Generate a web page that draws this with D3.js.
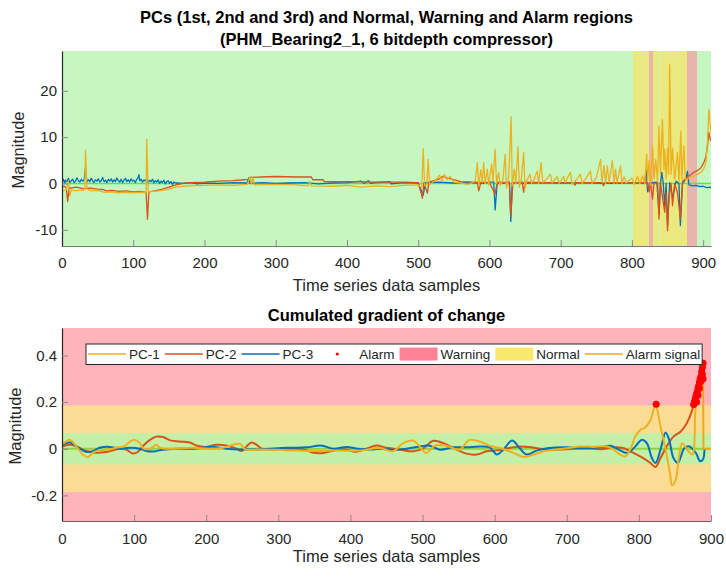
<!DOCTYPE html>
<html>
<head>
<meta charset="utf-8">
<script src="https://cdn.jsdelivr.net/npm/d3@7/dist/d3.min.js"></script>
<style>
body{margin:0;background:#fff;}
svg text{font-family:"Liberation Sans",Arial,Helvetica,sans-serif;fill:#262626;}
</style>
</head>
<body>
<svg id="fig" width="726" height="577"></svg>
<script>
// ---- upper panel: raw principal components, [sample, value]
var comp1=[[0,0.3],[2,0.9],[4,0.1],[5,0.7],[7,0.4],[9,1.1],[11,0.2],[13,0.6],[15,0.9],[17,0.2],[19,0.5],[21,1.2],[23,0.6],[25,0.3],[27,0.9],[29,0.5],[31,0.7],[33,3.5],[35,0.3],[37,0.8],[39,0.4],[41,1.1],[43,0.6],[45,0.2],[47,0.8],[49,0.5],[51,1.0],[53,0.3],[55,0.6],[57,1.3],[59,0.4],[61,0.7],[63,0.2],[65,0.9],[67,0.5],[69,1.0],[71,0.3],[73,0.8],[75,0.4],[77,1.2],[79,0.6],[81,0.3],[83,0.9],[85,0.2],[87,0.7],[89,1.1],[91,0.4],[93,0.8],[95,0.3],[97,1.0],[99,0.5],[101,0.7],[103,0.2],[105,0.9],[107,1.3],[108,1.9],[109,0.6],[111,0.9],[113,0.3],[115,0.8],[117,0.5],[119,1.0],[121,0.2],[123,0.7],[125,0.4],[127,0.9],[129,0.1],[131,0.6],[133,0.3],[135,0.8],[137,0.0],[139,0.5],[141,0.2],[143,0.7],[145,-0.1],[147,0.4],[149,0.6],[151,0.0],[153,0.4],[155,-0.2],[157,0.3],[160,0.1],[170,0.0],[180,0.2],[190,-0.1],[200,0.1],[220,0.0],[240,0.2],[260,0.1],[262,1.2],[264,0.0],[280,0.2],[300,0.0],[320,0.1],[340,0.2],[360,-0.1],[380,0.1],[400,0.2],[420,0.5],[424,0.0],[430,0.6],[433,0.0],[440,0.2],[460,0.4],[462,-0.1],[480,0.2],[500,0.1],[507,-2.5],[510,0.2],[530,0.3],[550,0.1],[570,0.2],[590,0.0],[606,0.4],[608,-5.7],[611,0.2],[620,0.1],[628,0.3],[630,-8.2],[632,0.2],[650,0.0],[670,0.2],[700,0.1],[730,0.2],[760,0.0],[790,0.1],[810,0.2],[818,0.0],[820,3.0],[822,-1.8],[825,0.1],[835,0.3],[838,-6.5],[840,0.0],[842,2.4],[844,0.0],[846,-5.0],[848,0.0],[850,-9.0],[853,0.2],[857,-3.0],[862,0.5],[866,0.0],[868,-9.1],[871,0.0],[876,1.0],[878,2.6],[880,-0.3],[885,-0.5],[890,-0.4],[895,-0.7],[900,-0.6],[905,-0.9],[910,-0.8],[911,-1.0]];
var comp2=[[0,-0.8],[3,-0.6],[6,-0.9],[8,-3.9],[10,-0.9],[12,-1.0],[20,-0.8],[30,-1.1],[40,-1.0],[50,-1.2],[58,-1.3],[62,-1.6],[70,-1.5],[80,-1.7],[90,-1.6],[100,-1.8],[110,-1.7],[118,-1.9],[120,-7.7],[122,-1.8],[130,-1.6],[140,-1.3],[150,-0.8],[160,-0.3],[170,0.0],[180,0.2],[200,0.3],[220,0.5],[240,0.6],[255,0.8],[262,0.9],[265,1.3],[280,1.4],[300,1.5],[330,1.4],[350,1.4],[352,0.8],[366,0.8],[368,0.4],[400,0.4],[440,0.3],[480,0.3],[500,0.2],[506,-3.2],[508,0.2],[513,-2.1],[515,0.3],[530,1.0],[535,1.6],[540,1.2],[560,0.4],[583,0.3],[585,-1.6],[588,0.3],[600,0.2],[608,-2.3],[611,0.3],[628,0.2],[630,-7.0],[633,0.2],[646,0.3],[648,-1.9],[650,0.3],[680,0.2],[700,0.1],[718,0.2],[720,-0.4],[722,0.2],[740,0.2],[758,0.2],[760,-0.5],[762,0.2],[780,0.2],[800,0.1],[822,0.2],[824,-1.8],[826,0.3],[829,-3.4],[831,0.0],[836,0.2],[838,-7.7],[840,0.2],[846,-6.2],[848,-2.0],[850,-10.2],[852,-3.0],[855,0.0],[857,-4.8],[860,0.0],[864,-2.0],[868,-7.7],[871,0.5],[876,1.2],[880,1.6],[887,2.4],[893,2.9],[897,3.4],[901,4.5],[904,5.9],[906,8.0],[908,11.0],[910,9.5],[911,9.2]];
var comp3=[[0,-1.7],[4,-1.5],[6,-1.4],[9,0.6],[11,-2.7],[13,-1.4],[20,-1.6],[26,-1.4],[30,-1.5],[32,-1.0],[33,7.2],[35,-1.2],[40,-1.6],[50,-1.5],[60,-1.9],[70,-1.8],[80,-2.0],[90,-1.9],[100,-2.0],[110,-1.9],[118,-2.0],[119,9.5],[121,-1.8],[130,-1.7],[140,-1.5],[150,-1.2],[160,-0.8],[170,-0.6],[180,-0.5],[200,-0.4],[220,-0.3],[240,-0.4],[260,-0.2],[264,1.5],[266,-0.2],[268,1.2],[270,-0.3],[300,-0.2],[330,-0.3],[345,-0.5],[348,0.5],[350,-0.5],[380,-0.6],[400,-0.4],[420,-0.8],[440,-0.5],[460,-0.7],[480,-0.4],[500,-0.3],[505,-0.8],[507,7.5],[509,-0.5],[512,-0.3],[514,5.2],[516,-0.3],[525,0.8],[530,1.8],[533,0.5],[537,1.9],[540,0.8],[545,1.5],[550,0.3],[560,0.1],[570,-0.2],[580,0.5],[583,4.5],[585,-0.5],[588,3.0],[590,0.2],[592,4.5],[594,0.0],[597,3.1],[599,-0.3],[603,4.2],[605,0.4],[608,7.4],[610,0.0],[613,2.4],[615,-0.5],[619,0.8],[622,6.3],[624,-1.0],[627,1.5],[630.5,14.4],[632,-0.5],[635,3.1],[637,0.0],[640,8.0],[642,-0.8],[645,1.2],[648,6.7],[650,-1.0],[653,0.8],[657,2.0],[659,0.0],[663,1.0],[667,2.7],[669,0.0],[672.5,4.5],[675,0.2],[680,0.9],[685.5,2.0],[688,0.1],[695,1.5],[698,0.0],[704,1.5],[706,0.2],[713.6,2.4],[716,-0.2],[722,0.8],[727.7,2.0],[730,0.0],[735,1.0],[741.8,2.7],[744,0.0],[750,1.2],[756,5.2],[758,0.2],[760.8,3.9],[763,0.0],[765.5,3.8],[768,0.2],[772.5,4.9],[775,0.0],[777,3.1],[779,0.1],[784,3.8],[786,0.0],[789,1.5],[792,0.1],[800,1.2],[803,-0.2],[808,1.5],[811,0.0],[815,1.6],[818,0.0],[820.7,6.3],[822,0.5],[824,4.9],[826,-0.5],[829,8.1],[831,1.0],[833.4,5.2],[836,0.5],[838,12.4],[840,2.0],[842.8,13.8],[845,3.0],[846,7.4],[848,1.0],[850,7.6],[851.5,2.0],[853,25.6],[855,2.0],[857,7.6],[860,1.0],[864,6.7],[866,0.5],[868.6,11.3],[870,1.0],[873,8.1],[875,0.8],[878,1.0],[880,1.2],[887,1.6],[893,2.0],[897,2.4],[901,3.2],[904,4.5],[906,9.0],[908,16.0],[910,12.4],[911,11.0]];

// state regions along the samples (0 normal, 1 warning, 2 alarm)
var regionStart=[0,802,824,829,838,840,878,892];
var regionEnd=[802,824,829,838,840,878,892,911];
var regionLevel=[0,1,2,1,0,1,2,0];

// ---- lower panel: cumulated gradient, [sample, value]
var pc1=[[0,0.02],[5,0.03],[11,0.038],[20,0.01],[29,-0.026],[36,-0.035],[43,-0.017],[52,-0.006],[66,-0.003],[75,0.004],[87,0.011],[94,0.031],[101,0.038],[108,0.024],[113,0],[122,0],[131,0.017],[136,0.004],[154,0],[182,0.004],[205,0],[223,0.004],[237,0.017],[247,0.021],[254,-0.003],[265,-0.005],[275,-0.003],[310,-0.006],[350,-0.01],[380,-0.008],[413,-0.008],[441,0.003],[459,-0.011],[473,0.024],[487,0.035],[496,0.01],[505,-0.018],[517,0.013],[533,0.013],[551,-0.004],[565,0.038],[579,0.031],[593,0.013],[607,0.003],[626,-0.018],[640,-0.035],[654,-0.025],[668,-0.011],[682,-0.004],[700,0.002],[719,0.01],[737,0.008],[756,0.01],[765,-0.004],[774,-0.025],[781,-0.033],[788,-0.004],[795,0.052],[802,0.081],[809,0.092],[816,0.123],[823,0.187],[830,0.095],[837,-0.004],[843,-0.103],[846,-0.157],[851,-0.132],[856,-0.025],[860,0.024],[867,-0.004],[874,-0.025],[879,0.187],[885,0.27],[889,0.345]];
var pc2=[[0,0.01],[11,0.017],[20,0.01],[34,-0.01],[47,-0.017],[61,-0.014],[80,0],[89,-0.003],[98,-0.02],[105,-0.014],[113,0.014],[122,0.038],[131,0.052],[140,0.05],[150,0.036],[163,0.031],[177,0.027],[186,0.014],[200,0.008],[214,0.017],[228,0.014],[242,0],[249,-0.01],[256,0.011],[263,0.027],[270,0.017],[277,0],[294,-0.003],[321,0],[335,-0.003],[349,-0.017],[363,-0.018],[381,-0.005],[395,-0.003],[406,-0.013],[422,0],[436,0.014],[450,0.004],[469,-0.004],[487,-0.011],[501,0.002],[515,0.034],[529,0.024],[543,0.002],[561,-0.021],[575,-0.025],[589,-0.011],[603,-0.007],[617,0.002],[635,0.01],[649,0.007],[673,-0.004],[700,-0.002],[728,0.002],[747,-0.002],[765,0.006],[779,0.002],[788,-0.011],[797,-0.025],[806,-0.04],[816,-0.061],[823,-0.078],[830,-0.04],[839,0.013],[848,0.052],[858,0.074],[865,0.102],[872,0.149],[876,0.187],[880,0.23],[884,0.28],[887,0.32],[889,0.367]];
var pc3=[[0,0.017],[11,0.027],[20,0.01],[34,-0.014],[43,-0.01],[52,0.004],[66,0.008],[80,0],[94,0.004],[108,0],[117,-0.01],[126,-0.012],[140,-0.004],[159,0],[182,0],[210,0.008],[228,0],[247,-0.003],[275,-0.003],[312,0.004],[340,0.006],[359,0.014],[377,0],[395,0.008],[409,0],[432,-0.003],[441,0],[459,-0.004],[478,0],[496,0.01],[510,0.013],[524,-0.004],[543,0.006],[561,0.006],[579,0.01],[593,0.006],[603,-0.025],[612,-0.004],[624,0.035],[635,0.002],[644,-0.025],[658,-0.008],[673,0.002],[700,0.006],[719,0.002],[747,0.006],[761,0.013],[772,-0.004],[784,-0.018],[795,0.01],[804,0.038],[811,0.024],[818,-0.04],[823,-0.061],[830,-0.004],[837,0.07],[842,0.038],[848,-0.04],[854,-0.061],[863,0.002],[870,0.01],[879,-0.018],[885,-0.054],[889,-0.045],[891,0]];
var alarmSignal=[[889,0.345],[889.5,0],[900,0]];
var alarmX=[824,876,877,878,879,880,881,882,883,884,885,886,887,888,889,889,888,886,884,882,880];
var alarmY=[0.191,0.19,0.2,0.21,0.225,0.235,0.245,0.26,0.27,0.285,0.3,0.31,0.33,0.35,0.367,0.3,0.32,0.29,0.26,0.23,0.2];

// band limits of the lower panel
var warnLimit=0.186;
var normalLimit=0.067;

var xTicks=[0,100,200,300,400,500,600,700,800,900];
var topYTicks=[-10,0,10,20];
var botYTicks=[-0.2,0,0.2,0.4];
var legendLabels=['PC-1','PC-2','PC-3','Alarm','Warning','Normal','Alarm signal'];

var regionColors=['#c7f7c1','#e9e97f','#eab4ae'];
var compColors=['#0072bd','#d95319','#edb120'];
var pcColors=['#edb120','#d95319','#0072bd'];

var svg=d3.select('#fig');

function styleAxis(g, domainColor)
{
	g.select('.domain').attr('stroke',domainColor).attr('stroke-width',1.2);
	g.selectAll('.tick line').attr('stroke','#8a8a8a');
	g.selectAll('.tick text').attr('font-size','15px').attr('fill','#262626').attr('font-family','"Liberation Sans",Arial,sans-serif');
}

// ================= upper panel =================
var L=62, R=711;
var xTop=d3.scaleLinear().domain([0,911]).range([L,R]);
var yTop=d3.scaleLinear().domain([-13.5,28.6]).range([246,51]);

var upper=svg.append('g');
upper.append('clipPath').attr('id','clipTop').append('rect')
	.attr('x',L).attr('y',51).attr('width',R-L).attr('height',195);

upper.selectAll('rect.region')
	.data(regionStart)
	.enter().append('rect')
	.attr('class','region')
	.attr('x',function(d){ return xTop(d); })
	.attr('width',function(d,i){ return xTop(regionEnd[i])-xTop(d); })
	.attr('y',51)
	.attr('height',195)
	.attr('fill',function(d,i){ return regionColors[regionLevel[i]]; })
	.attr('shape-rendering','crispEdges');

upper.append('line')
	.attr('x1',L).attr('x2',R)
	.attr('y1',yTop(0)).attr('y2',yTop(0))
	.attr('stroke','#5fe05a').attr('stroke-width',1.5);

var lineTop=d3.line()
	.x(function(d){ return xTop(d[0]); })
	.y(function(d){ return yTop(d[1]); });

[comp1,comp2,comp3].forEach(function(s,i){
	upper.append('path')
		.datum(s)
		.attr('d',lineTop)
		.attr('fill','none')
		.attr('stroke',compColors[i])
		.attr('stroke-width',1.3)
		.attr('stroke-linejoin','round')
		.attr('clip-path','url(#clipTop)');
});

var gxTop=upper.append('g')
	.attr('transform','translate(0,246)')
	.call(d3.axisBottom(xTop).tickValues(xTicks).tickSizeInner(-6).tickSizeOuter(0).tickPadding(11.5).tickFormat(function(d){ return String(d); }));
styleAxis(gxTop,'#7a7a7a');

var gyTop=upper.append('g')
	.attr('transform','translate('+L+',0)')
	.call(d3.axisLeft(yTop).tickValues(topYTicks).tickSizeInner(-6).tickSizeOuter(0).tickPadding(5).tickFormat(function(d){ return String(d); }));
styleAxis(gyTop,'#262626');

upper.append('text')
	.attr('x',(L+R)/2).attr('y',23)
	.attr('text-anchor','middle')
	.attr('font-size','16.5px').attr('font-weight','bold').style('fill','#000')
	.text('PCs (1st, 2nd and 3rd) and Normal, Warning and Alarm regions');
upper.append('text')
	.attr('x',(L+R)/2).attr('y',45)
	.attr('text-anchor','middle')
	.attr('font-size','16.5px').attr('font-weight','bold').style('fill','#000')
	.text('(PHM_Bearing2_1, 6 bitdepth compressor)');
upper.append('text')
	.attr('x',(L+R)/2).attr('y',291)
	.attr('text-anchor','middle')
	.attr('font-size','16.5px')
	.text('Time series data samples');
upper.append('text')
	.attr('transform','translate(24,150) rotate(-90)')
	.attr('text-anchor','middle')
	.attr('font-size','16.5px')
	.text('Magnitude');

// ================= lower panel =================
var xBot=d3.scaleLinear().domain([0,900]).range([L,R]);
var yBot=d3.scaleLinear().domain([-0.31,0.518]).range([521,328]);

var lower=svg.append('g');
lower.append('clipPath').attr('id','clipBot').append('rect')
	.attr('x',L).attr('y',328).attr('width',R-L).attr('height',193);

lower.append('rect')
	.attr('x',L).attr('y',328).attr('width',R-L).attr('height',193)
	.attr('fill','#ffb3bb');
lower.append('rect')
	.attr('x',L).attr('width',R-L)
	.attr('y',yBot(warnLimit)).attr('height',yBot(-warnLimit)-yBot(warnLimit))
	.attr('fill','#fadc95');
lower.append('rect')
	.attr('x',L).attr('width',R-L)
	.attr('y',yBot(normalLimit)).attr('height',yBot(-normalLimit)-yBot(normalLimit))
	.attr('fill','#c3f0a6');
lower.append('line')
	.attr('x1',L).attr('x2',R)
	.attr('y1',yBot(0)).attr('y2',yBot(0))
	.attr('stroke','#8fd442').attr('stroke-width',2);

var lineBot=d3.line()
	.curve(d3.curveCatmullRom.alpha(0.5))
	.x(function(d){ return xBot(d[0]); })
	.y(function(d){ return yBot(d[1]); });

[pc2,pc3,pc1].forEach(function(s){
	var c=(s===pc1)?pcColors[0]:(s===pc2)?pcColors[1]:pcColors[2];
	lower.append('path')
		.datum(s)
		.attr('d',lineBot)
		.attr('fill','none')
		.attr('stroke',c)
		.attr('stroke-width',2)
		.attr('stroke-linejoin','round')
		.attr('clip-path','url(#clipBot)');
});

lower.append('path')
	.datum(alarmSignal)
	.attr('d',d3.line().x(function(d){ return xBot(d[0]); }).y(function(d){ return yBot(d[1]); }))
	.attr('fill','none')
	.attr('stroke','#eda81e')
	.attr('stroke-width',2);

lower.selectAll('circle.alarm')
	.data(alarmX)
	.enter().append('circle')
	.attr('class','alarm')
	.attr('cx',function(d){ return xBot(d); })
	.attr('cy',function(d,i){ return yBot(alarmY[i]); })
	.attr('r',3.5)
	.attr('fill','#ff0000');

var gxBot=lower.append('g')
	.attr('transform','translate(0,521)')
	.call(d3.axisBottom(xBot).tickValues(xTicks).tickSizeInner(-6).tickSizeOuter(0).tickPadding(12).tickFormat(function(d){ return String(d); }));
styleAxis(gxBot,'#6e5e60');

var gyBot=lower.append('g')
	.attr('transform','translate('+L+',0)')
	.call(d3.axisLeft(yBot).tickValues(botYTicks).tickSizeInner(-6).tickSizeOuter(0).tickPadding(5).tickFormat(function(d){ return String(d); }));
styleAxis(gyBot,'#262626');

lower.append('text')
	.attr('x',(L+R)/2).attr('y',321)
	.attr('text-anchor','middle')
	.attr('font-size','16.5px').attr('font-weight','bold').style('fill','#000')
	.text('Cumulated gradient of change');
lower.append('text')
	.attr('x',(L+R)/2).attr('y',562)
	.attr('text-anchor','middle')
	.attr('font-size','16.5px')
	.text('Time series data samples');
lower.append('text')
	.attr('transform','translate(21,426) rotate(-90)')
	.attr('text-anchor','middle')
	.attr('font-size','16.5px')
	.text('Magnitude');

// legend, laid out left to right from measured label widths
var legKinds=['line','line','line','dot','patch','patch','line'];
var legColors=[pcColors[0],pcColors[1],pcColors[2],'#ff0000','#ff8392','#f8e86e','#eda81e'];
var leg=lower.append('g');
var legBox=leg.append('rect')
	.attr('x',86).attr('y',344).attr('height',20.5)
	.attr('fill','#fff').attr('stroke','#262626').attr('stroke-width',1);
var cx=88, cy=354;
legendLabels.forEach(function(lab,i){
	var k=legKinds[i];
	if(k=='line'){
		leg.append('line').attr('x1',cx).attr('x2',cx+38).attr('y1',cy).attr('y2',cy)
			.attr('stroke',legColors[i]).attr('stroke-width',1.5);
	}
	else if(k=='dot'){
		leg.append('circle').attr('cx',cx+19).attr('cy',cy).attr('r',1.6).attr('fill',legColors[i]);
	}
	else{
		leg.append('rect').attr('x',cx).attr('y',cy-6.5).attr('width',38).attr('height',13)
			.attr('fill',legColors[i]);
	}
	var t=leg.append('text')
		.attr('x',cx+41).attr('y',cy+4.8)
		.attr('font-size','13.5px')
		.text(lab);
	cx=cx+41+t.node().getComputedTextLength()+5;
});
legBox.attr('width',cx-3-86);
</script>
</body>
</html>
